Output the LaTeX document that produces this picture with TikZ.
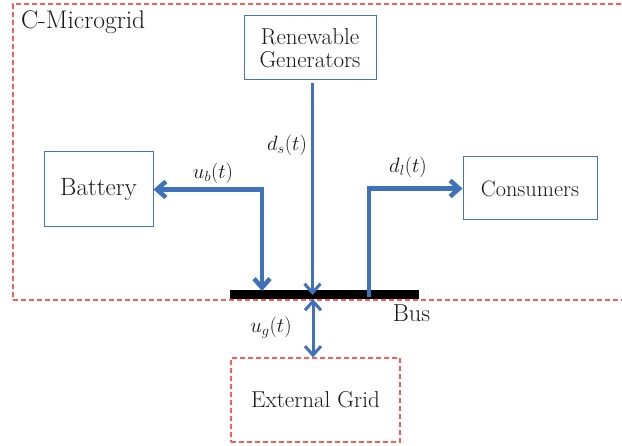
\documentclass[tikz,border=0pt]{standalone}
\usetikzlibrary{arrows.meta}
\definecolor{boxblue}{RGB}{68,114,196}
\definecolor{arrblue}{RGB}{62,114,186}
\definecolor{dred}{RGB}{255,90,90}
\definecolor{txt}{RGB}{25,25,25}
\tikzset{
  blkbox/.style={draw=boxblue, line width=1pt, text=txt, inner sep=0pt, align=center},
  redbox/.style={draw=dred, line width=1.2pt, dash pattern=on 5pt off 3pt, inner sep=0pt},
  flowthin/.style={draw=arrblue, line width=3pt},
  flowthick/.style={draw=arrblue, line width=4.5pt},
  tip/.style={-{Straight Barb[length=9pt,width=16pt]}},
  tips/.style={{Straight Barb[length=9pt,width=16pt]}-{Straight Barb[length=9pt,width=16pt]}},
  lbl/.style={text=txt, inner sep=0pt},
}
\begin{document}
\begin{tikzpicture}[x=1pt,y=-1pt]
\useasboundingbox (0,0) rectangle (622,446);
% outer microgrid frame
\node[redbox, minimum width=612pt, minimum height=296pt] (mg) at (319,152) {};
\node[lbl, anchor=west, font=\fontsize{25.5}{25.5}\selectfont] (mgl) at (21,22) {C-Microgrid};
% boxes
\node[blkbox, minimum width=132pt, minimum height=64pt, font=\fontsize{23}{23}\selectfont] (ren) at (310,48) {Renewable\\Generators};
\node[blkbox, minimum width=109pt, minimum height=75pt, font=\fontsize{25}{25}\selectfont] (bat) at (98.5,189.5) {Battery};
\node[blkbox, minimum width=134pt, minimum height=63pt, font=\fontsize{22.3}{22.3}\selectfont] (con) at (530,188.5) {Consumers};
\node[redbox, minimum width=169pt, minimum height=84pt, text=txt, font=\fontsize{23}{23}\selectfont] (ext) at (315.5,400) {External Grid};
% bus
\node[fill=black, minimum width=189pt, minimum height=9pt, inner sep=0pt] (bus) at (324.5,295) {};
\node[lbl, font=\fontsize{24.5}{24.5}\selectfont] (busl) at (411.5,313) {Bus};
% bus attachment points
\coordinate (s1) at (312.5,295);
\coordinate (b1) at (262,291);
\coordinate (c1) at (369,297);
\coordinate (g1) at (313,299);
% connectors
\draw[flowthin, tip, shorten <=3pt] (ren.south -| s1) -- (s1);
\draw[flowthick, tips] (bat.east) -| (b1);
\draw[flowthick, tip] (c1) |- (con.west);
\draw[flowthin, tips] (g1) -- (ext.north -| g1);
% labels
\node[lbl, font=\fontsize{20}{20}\selectfont] (lds) at (287,145) {$d_s(t)$};
\node[lbl, font=\fontsize{20}{20}\selectfont] (lub) at (213,173) {$u_b(t)$};
\node[lbl, font=\fontsize{20}{20}\selectfont] (ldl) at (408,167) {$d_l(t)$};
\node[lbl, font=\fontsize{20}{20}\selectfont] (lug) at (271,328) {$u_g(t)$};
\end{tikzpicture}
\end{document}
